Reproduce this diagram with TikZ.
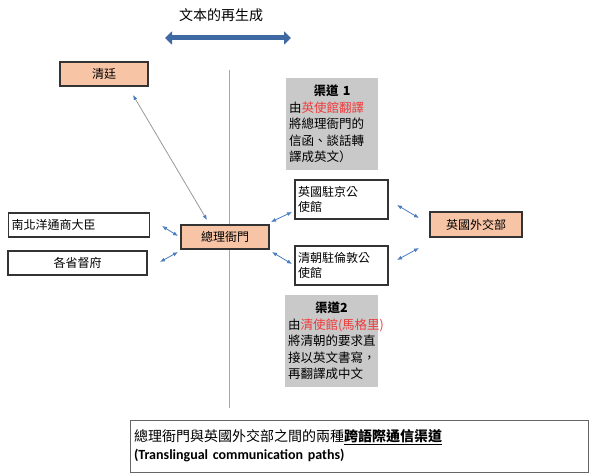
\documentclass[tikz,border=0pt]{standalone}
\usepackage{fontspec}
\setmainfont{Noto Sans CJK SC}
\newfontfamily\cjk{Noto Sans CJK TC}
\usetikzlibrary{arrows.meta}
\definecolor{peach}{HTML}{F7C4A6}
\definecolor{gbox}{HTML}{C9C9C9}
\definecolor{ablue}{HTML}{4A7CC0}
\definecolor{redt}{HTML}{F03A3A}
\begin{document}
\begin{tikzpicture}[x=1pt,y=-1pt,font=\cjk\fontsize{12}{15}\selectfont,
 box/.style={draw=black!80,line width=1.2pt,inner sep=2pt},
 pbox/.style={box,fill=peach},
 gb/.style={fill=gbox,align=left,inner sep=3pt,font=\cjk\fontsize{12.5}{16.5}\selectfont},
 sa/.style={{Latex[length=5pt,width=4pt]}-{Latex[length=5pt,width=4pt]},ablue,line width=0.8pt}]
\useasboundingbox (0,0) rectangle (600,476);
\fill[white] (0,0) rectangle (600,476);
\node[font=\cjk\fontsize{14}{16}\selectfont] (title) at (221,15) {文本的再生成};
\coordinate (bl) at (165,38); \coordinate (br) at (291,38);
\draw[{Triangle[length=7pt,width=13pt]}-{Triangle[length=7pt,width=13pt]},line width=5pt,color=ablue!85!black] (bl) -- (br);
\coordinate (vt) at (229,70); \coordinate (vb) at (229,408);
\draw[black!35,line width=1pt] (vt) -- (vb);
\node[pbox,minimum width=88pt,minimum height=24pt] (qt) at (104,74) {清廷};
\node[pbox,minimum width=88pt,minimum height=24pt] (zl) at (225,237) {總理衙門};
\node[box,minimum width=141pt,minimum height=24pt,anchor=west,text width=135pt] (nb) at (8,225) {南北洋通商大臣};
\node[box,minimum width=139pt,minimum height=24pt] (gs) at (77.5,263) {各省督府};
\node[pbox,minimum width=92pt,minimum height=25pt] (wj) at (476,224.5) {英國外交部};
\node[box,minimum width=93pt,minimum height=39pt,text width=87pt,align=left] (jg) at (341.5,199.5) {英國駐京公\\使館};
\node[box,minimum width=93pt,minimum height=39pt,text width=87pt,align=left] (ld) at (341.5,265.5) {清朝駐倫敦公\\使館};
\node[gb,minimum width=92pt,minimum height=92pt,text width=86pt] (c1) at (332,124) {\makebox[86pt]{\bfseries 渠道 1}\\由\textcolor{redt}{英使館翻譯}\\將總理衙門的\\信函、談話轉\\譯成英文）};
\node[gb,minimum width=93pt,minimum height=92pt,text width=87pt] (c2) at (331.5,341) {\makebox[87pt]{\bfseries 渠道2}\\由\textcolor{redt}{清使館(馬格里)}\\將清朝的要求直\\接以英文書寫，\\再翻譯成中文};
\node[draw=black!60,line width=0.6pt,minimum width=458pt,minimum height=52pt,text width=450pt,align=left,font=\cjk\fontsize{14}{18}\selectfont] (bt) at (359,446) {總理衙門與英國外交部之間的兩種\underline{\bfseries 跨語際通信渠道}\\{\bfseries\fontspec{Carlito}(Translingual communication paths)}};
\draw[black!40,line width=0.8pt,{Latex[length=5pt,width=4pt,color=ablue]}-{Latex[length=5pt,width=4pt,color=ablue]}] (133,95) -- (207,220);
\coordinate (a1) at (162,226); \coordinate (a2) at (178,236);
\draw[sa] (a1) -- (a2);
\coordinate (b1) at (160,262); \coordinate (b2) at (178,252);
\draw[sa] (b1) -- (b2);
\coordinate (c1a) at (271,222); \coordinate (c1b) at (292,212);
\draw[sa] (c1a) -- (c1b);
\coordinate (d1) at (272,252); \coordinate (d2) at (292,264);
\draw[sa] (d1) -- (d2);
\coordinate (e1) at (397,205); \coordinate (e2) at (419,218);
\draw[sa] (e1) -- (e2);
\coordinate (f1) at (397,260); \coordinate (f2) at (419,248);
\draw[sa] (f1) -- (f2);
\end{tikzpicture}
\end{document}
